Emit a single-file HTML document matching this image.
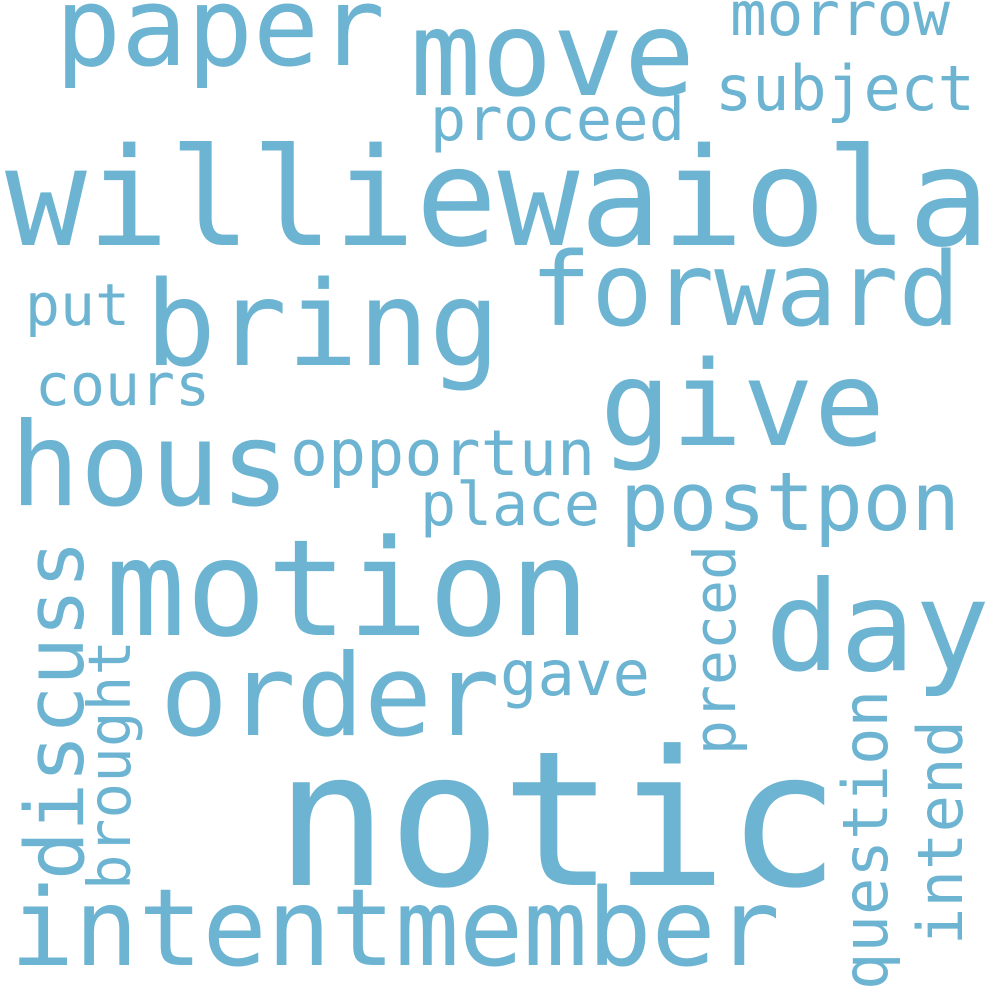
<!DOCTYPE html>
<html><head><meta charset="utf-8"><style>
html,body{margin:0;padding:0;background:#fff}
svg text{font-family:"DejaVu Sans Mono","Liberation Mono",monospace;fill:#6cb4d1}
</style></head><body>
<svg width="1000" height="1000" viewBox="0 0 1000 1000">
<text x="55" y="65" font-size="110" textLength="330">paper</text>
<text x="410" y="95" font-size="118" textLength="285">move</text>
<text x="730" y="35" font-size="61" textLength="220">morrow</text>
<text x="715" y="110" font-size="62" textLength="260">subject</text>
<text x="430" y="140" font-size="60" textLength="255">proceed</text>
<text x="5" y="245" font-size="136" textLength="985">williewaiola</text>
<text x="530" y="325" font-size="102" textLength="430">forward</text>
<text x="145" y="365" font-size="118" textLength="355">bring</text>
<text x="25" y="325" font-size="58" textLength="105">put</text>
<text x="600" y="445" font-size="118" textLength="285">give</text>
<text x="35" y="405" font-size="58" textLength="175">cours</text>
<text x="10" y="505" font-size="116" textLength="280">hous</text>
<text x="290" y="475" font-size="63" textLength="305">opportun</text>
<text x="620" y="530" font-size="81" textLength="340">postpon</text>
<text x="420" y="525" font-size="60" textLength="180">place</text>
<text x="105" y="635" font-size="134" textLength="485">motion</text>
<text x="765" y="670" font-size="125" textLength="225">day</text>
<text x="160" y="735" font-size="113" textLength="340">order</text>
<text x="500" y="695" font-size="62" textLength="150">gave</text>
<text x="275" y="885" font-size="188" textLength="565">notic</text>
<text x="10" y="965" font-size="107" textLength="770">intentmember</text>
<text transform="translate(83,880) rotate(-90)" font-size="81" textLength="340">discuss</text>
<text transform="translate(130,890) rotate(-90)" font-size="59" textLength="250">brought</text>
<text transform="translate(735,755) rotate(-90)" font-size="58" textLength="210">preced</text>
<text transform="translate(887,990) rotate(-90)" font-size="62" textLength="300">question</text>
<text transform="translate(962,945) rotate(-90)" font-size="62" textLength="225">intend</text>
</svg>
</body></html>
